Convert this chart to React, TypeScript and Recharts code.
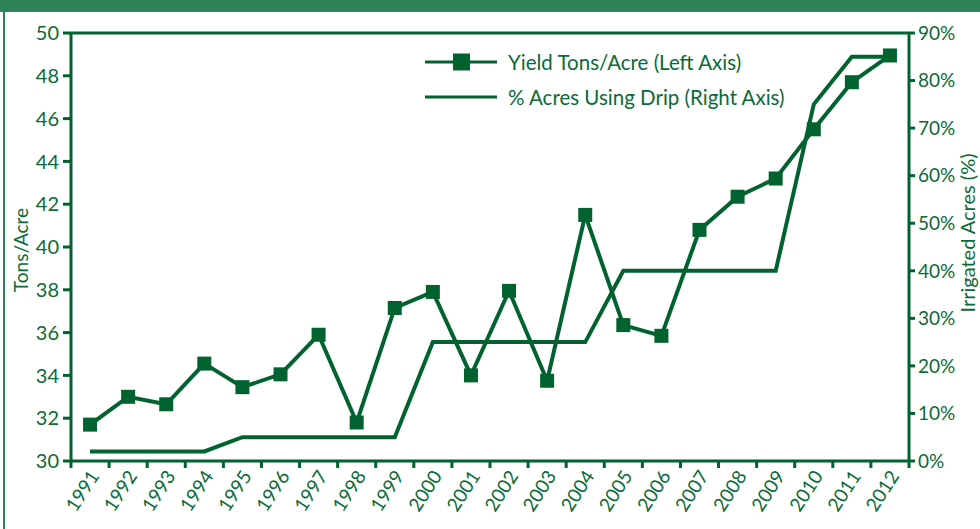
import { LineChart, Line, XAxis, YAxis, ReferenceLine } from 'recharts';

const years = [1991, 1992, 1993, 1994, 1995, 1996, 1997, 1998, 1999, 2000, 2001, 2002, 2003, 2004, 2005, 2006, 2007, 2008, 2009, 2010, 2011, 2012];
const yieldTons = [31.7, 33.0, 32.65, 34.55, 33.45, 34.05, 35.9, 31.8, 37.15, 37.9, 34.0, 37.95, 33.75, 41.5, 36.35, 35.85, 40.8, 42.35, 43.2, 45.5, 47.7, 48.95];
const dripPct = [2, 2, 2, 2, 5, 5, 5, 5, 5, 25, 25, 25, 25, 25, 40, 40, 40, 40, 40, 75, 85, 85];
const leftTicks = [30, 32, 34, 36, 38, 40, 42, 44, 46, 48, 50];
const rightTicks = [0, 10, 20, 30, 40, 50, 60, 70, 80, 90];

const GREEN = '#00632f';
const TEXT = '#0a6a38';
const FONT = 'Lato, "Open Sans", sans-serif';

const data = years.map((year, i) => ({ year, yield: yieldTons[i], drip: dripPct[i] }));
// ticks at category boundaries (half years) plus label ticks at each year
const xTicks: number[] = [];
for (let i = 0; i <= years.length; i++) {
  xTicks.push(years[0] - 0.5 + i);
  if (i < years.length) xTicks.push(years[i]);
}

function YearTick(props: any) {
  const { x, y, payload } = props;
  const v = payload.value as number;
  if (!Number.isInteger(v)) {
    return <line x1={x} y1={y} x2={x} y2={y + 7} stroke={GREEN} strokeWidth={3} />;
  }
  const ax = x + 10;
  const ay = y + 15;
  return (
    <text x={ax} y={ay} textAnchor="end" fill={TEXT} fontSize={19} fontFamily={FONT}
      transform={`rotate(-57, ${ax}, ${ay})`}>
      {v}
    </text>
  );
}

function SquareDot(props: any) {
  const { cx, cy, index } = props;
  if (cx == null || cy == null) return <g key={index} />;
  return <rect key={index} x={cx - 7} y={cy - 7} width={14} height={14} fill={GREEN} />;
}

function LegendBox() {
  const row = (withSquare: boolean, label: string) => (
    <div style={{ display: 'flex', alignItems: 'center', height: 35 }}>
      <svg width={73} height={20} style={{ marginRight: 10 }}>
        <line x1={0} y1={10} x2={72} y2={10} stroke={GREEN} strokeWidth={3} />
        {withSquare && <rect x={28} y={1.5} width={17} height={17} fill={GREEN} />}
      </svg>
      <span style={{ fontFamily: FONT, fontSize: 20.5, color: TEXT, whiteSpace: 'nowrap' }}>{label}</span>
    </div>
  );
  return (
    <div style={{ position: 'absolute', left: 425, top: 44 }}>
      {row(true, 'Yield Tons/Acre (Left Axis)')}
      {row(false, '% Acres Using Drip (Right Axis)')}
    </div>
  );
}

export default function App() {
  return (
    <div style={{ position: 'absolute', left: 0, top: 0, width: 980, height: 529, background: '#fff', overflow: 'hidden' }}>
      <div style={{ position: 'absolute', left: 0, top: 0, width: 980, height: 12, background: '#2e8257' }} />
      <div style={{ position: 'absolute', left: 3, top: 12, width: 2, height: 517, background: '#2e8257' }} />
      <div style={{ position: 'absolute', left: 0, top: 0 }}>
        <LineChart width={980} height={529} data={data} margin={{ top: 33, right: 0, bottom: 0, left: 0 }}>
          <XAxis
            dataKey="year"
            type="number"
            domain={[years[0] - 0.5, years[years.length - 1] + 0.5]}
            ticks={xTicks}
            interval={0}
            height={68}
            tickSize={0}
            tickMargin={0}
            tickLine={false}
            axisLine={{ stroke: GREEN, strokeWidth: 3 }}
            tick={<YearTick />}
          />
          <YAxis
            yAxisId="left"
            domain={[30, 50]}
            ticks={leftTicks}
            interval={0}
            width={71}
            tickSize={8}
            tickMargin={4}
            axisLine={{ stroke: GREEN, strokeWidth: 3 }}
            tickLine={{ stroke: GREEN, strokeWidth: 3 }}
            tick={{ fill: TEXT, fontSize: 20, fontFamily: FONT }}
            label={{
              content: (p: any) => {
                const vb = p.viewBox;
                const cx = 20;
                const cy = vb.y + vb.height / 2 + 3;
                return (
                  <text x={cx} y={cy} textAnchor="middle" dominantBaseline="central" fill={TEXT}
                    fontSize={19} fontFamily={FONT} transform={`rotate(-90, ${cx}, ${cy})`}>
                    Tons/Acre
                  </text>
                );
              },
            }}
          />
          <YAxis
            yAxisId="right"
            orientation="right"
            domain={[0, 90]}
            ticks={rightTicks}
            interval={0}
            width={71}
            tickSize={6}
            tickMargin={3}
            tickFormatter={(v: number) => `${v}%`}
            axisLine={{ stroke: GREEN, strokeWidth: 3 }}
            tickLine={{ stroke: GREEN, strokeWidth: 3 }}
            tick={{ fill: TEXT, fontSize: 19, fontFamily: FONT }}
            label={{
              content: (p: any) => {
                const vb = p.viewBox;
                const cx = 967;
                const cy = vb.y + vb.height / 2 - 14;
                return (
                  <text x={cx} y={cy} textAnchor="middle" dominantBaseline="central" fill={TEXT}
                    fontSize={20} fontFamily={FONT} transform={`rotate(-90, ${cx}, ${cy})`}>
                    Irrigated Acres (%)
                  </text>
                );
              },
            }}
          />
          <ReferenceLine yAxisId="left" y={50} stroke={GREEN} strokeWidth={3} />
          <Line
            yAxisId="right"
            type="linear"
            dataKey="drip"
            stroke={GREEN}
            strokeWidth={4}
            dot={false}
            isAnimationActive={false}
          />
          <Line
            yAxisId="left"
            type="linear"
            dataKey="yield"
            stroke={GREEN}
            strokeWidth={4}
            dot={<SquareDot />}
            activeDot={false}
            isAnimationActive={false}
          />
        </LineChart>
      </div>
      <LegendBox />
    </div>
  );
}
